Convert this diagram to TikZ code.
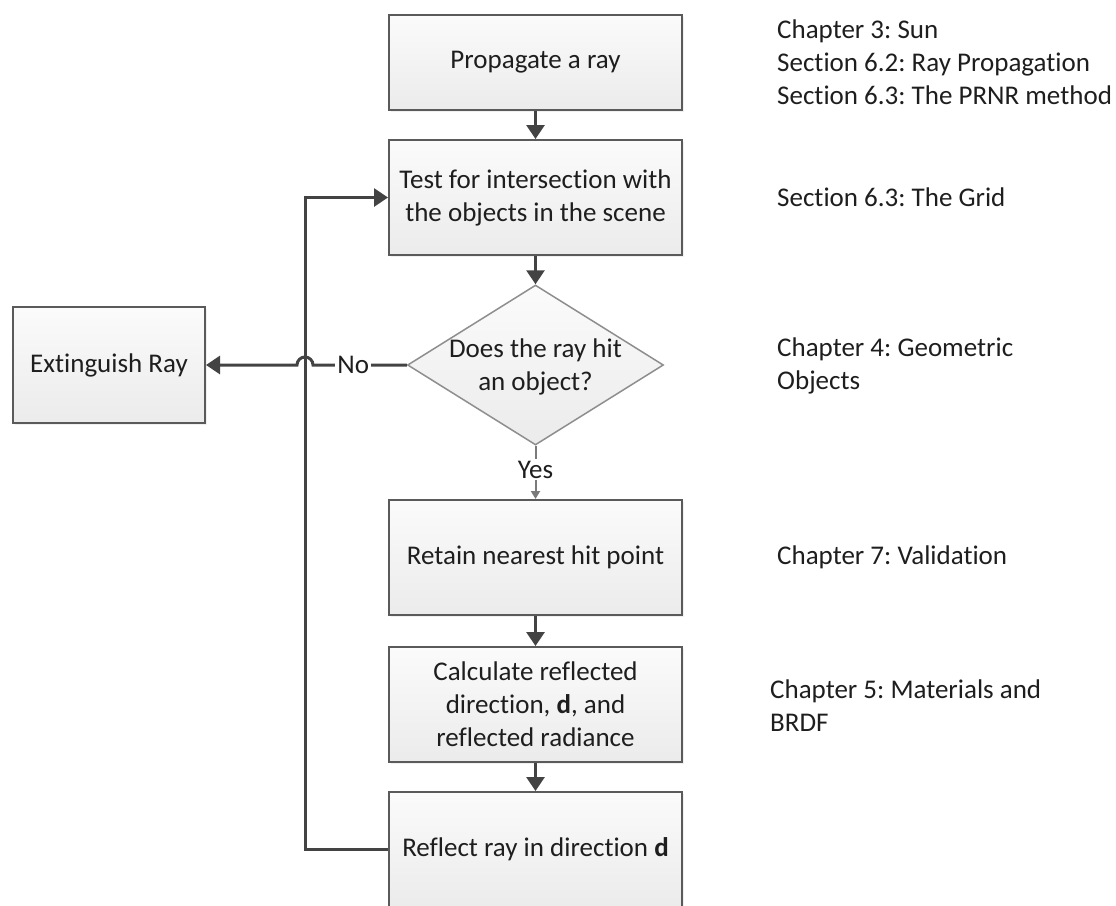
\documentclass[tikz,border=0pt]{standalone}
\usepackage{fontspec}
\setmainfont{Carlito}[Ligatures={NoCommon}]
\usetikzlibrary{arrows.meta,shapes.geometric,shadows}
\frenchspacing
\definecolor{boxline}{HTML}{5A5A5A}
\definecolor{diamline}{HTML}{8E8E8E}
\definecolor{arrowcol}{HTML}{434343}
\definecolor{yescol}{HTML}{7A7A7A}
\definecolor{txt}{HTML}{1E1E1E}
\definecolor{filltop}{HTML}{FBFBFB}
\definecolor{fillbot}{HTML}{EBEBEB}
\tikzset{
  fnt/.style={font=\fontsize{27}{33}\selectfont, text=txt},
  stepbox/.style={fnt, draw=boxline, line width=2pt, top color=filltop, bottom color=fillbot,
    minimum width=293, minimum height=115, inner sep=2pt, align=center,
    drop shadow={opacity=0.12, shadow xshift=2pt, shadow yshift=-2pt}},
  decbox/.style={fnt, shape=diamond, draw=diamline, line width=1.5pt, top color=filltop, bottom color=fillbot,
    minimum width=256, minimum height=160, inner sep=0pt},
  note/.style={fnt, anchor=west, align=left, inner sep=0pt},
  arr/.style={draw=arrowcol, line width=3pt, -{Triangle[width=18pt,length=14pt]}},
  yesarr/.style={draw=yescol, line width=2pt, -{Triangle[width=9pt,length=8pt]}},
  lbl/.style={fnt, fill=white, inner sep=2pt},
}
\begin{document}
\begin{tikzpicture}[x=1pt, y=-1pt]
\useasboundingbox (0,0) rectangle (1116,905);
\clip (0,0) rectangle (1116,905);

% main column
\node[stepbox, minimum height=95] (b1) at (535.5,62.5) {Propagate a ray};
\node[stepbox] (b2) at (535.5,197.5) {Test for intersection with\\the objects in the scene};
\node[decbox] (dec) at (535.5,365) {\makebox[0pt]{\smash{\raisebox{-9pt}{\begin{tabular}{@{}c@{}}Does the ray hit\\[0pt]an object?\end{tabular}}}}};
\node[stepbox] (b4) at (535.5,557.5) {Retain nearest hit point};
\node[stepbox] (b5) at (535.5,704.5) {Calculate reflected\\direction, \textbf{d}, and\\reflected radiance};
\node[stepbox] (b6) at (535.5,849.5) {Reflect ray in direction \textbf{d}};
\node[stepbox, minimum width=192, minimum height=116] (ext) at (109,365) {Extinguish Ray};

% notes
\node[note] (n1) at (777,62.5) {Chapter 3: Sun\\Section 6.2: Ray Propagation\\Section 6.3: The PRNR method};
\node[note] (n2) at (777,197.5) {Section 6.3: The Grid};
\node[note] (n3) at (777,366) {Chapter 4: Geometric\\Objects};
\node[note] (n4) at (777,557.5) {Chapter 7: Validation};
\node[note] (n5) at (770,706) {Chapter 5: Materials and\\BRDF};

% connectors
\draw[arr] (b1) -- (b2);
\draw[arr] (b2) -- (dec);
\draw[yesarr] (dec.south) -- node[lbl, pos=0.45] (yes) {Yes} (b4.north);
\draw[arr] (b4) -- (b5);
\draw[arr] (b5) -- (b6);

\coordinate (lx) at (305,0);
\draw[arr] (b6.west) -| (lx |- b2.west) -- (b2.west);

\coordinate (jr) at (313,365);
\draw[arr] (dec.west) -- node[lbl, pos=0.57] (no) {No} (jr |- dec.west) arc (0:-180:8) -- (ext.east);
\end{tikzpicture}
\end{document}
